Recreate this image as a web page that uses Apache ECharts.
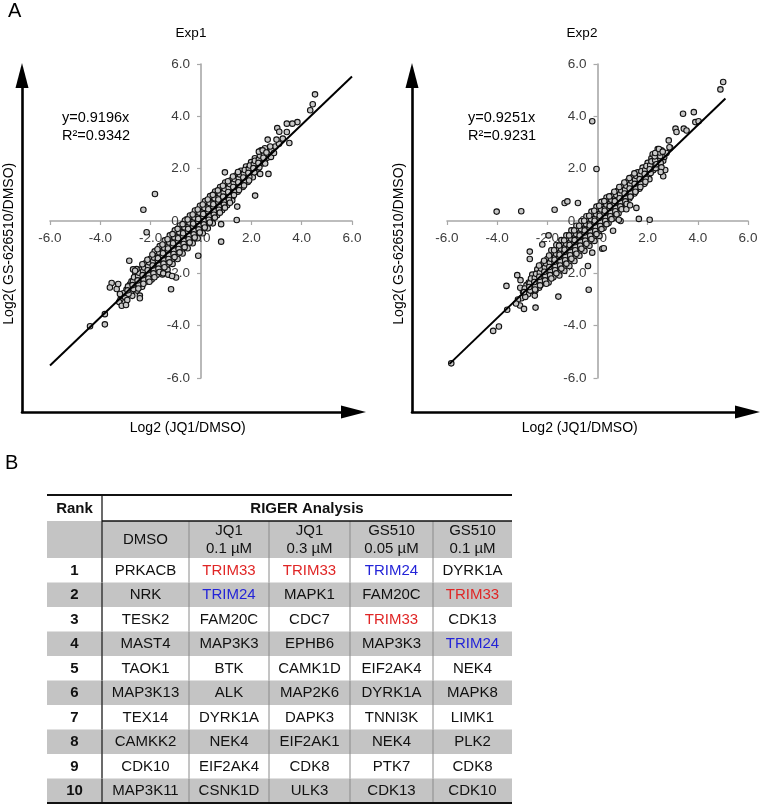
<!DOCTYPE html>
<html><head><meta charset="utf-8">
<script src="https://cdn.jsdelivr.net/npm/echarts@6/dist/echarts.min.js"></script>
<style>html,body{margin:0;padding:0;background:#fff}#c{width:762px;height:807px}</style>
</head><body><div id="c"></div>
<script>
const FONT = '"Liberation Sans", Arial, Helvetica, sans-serif';

// ---------- Panel A data ----------
const exp1Core = [
[-3.2,-3.0],[-3.15,-2.85],[-3.25,-3.1],
[-3.02,-2.9],[-2.96,-2.62],[-3.08,-2.76],[-2.93,-3.02],
[-2.82,-2.42],[-2.78,-2.71],[-2.86,-2.56],[-2.73,-2.86],[-2.76,-2.3],
[-2.63,-2.21],[-2.57,-2.5],[-2.66,-2.36],[-2.54,-2.66],[-2.61,-2.04],[-2.51,-2.29],
[-2.43,-2.01],[-2.37,-2.34],[-2.46,-2.16],[-2.34,-2.51],[-2.41,-1.86],[-2.31,-2.19],[-2.47,-2.44],
[-2.23,-1.81],[-2.17,-2.11],[-2.26,-1.96],[-2.14,-2.31],[-2.21,-1.62],[-2.11,-1.93],[-2.27,-2.21],[-2.09,-1.74],
[-2.03,-1.61],[-1.97,-1.91],[-2.06,-1.76],[-1.94,-2.09],[-2.01,-1.44],[-1.91,-1.71],[-2.07,-2.01],[-1.89,-1.56],[-1.96,-2.24],
[-1.83,-1.41],[-1.77,-1.74],[-1.86,-1.56],[-1.74,-1.91],[-1.81,-1.26],[-1.71,-1.61],[-1.87,-1.84],[-1.69,-1.36],[-1.76,-2.06],[-1.84,-1.16],
[-1.63,-1.21],[-1.57,-1.54],[-1.66,-1.36],[-1.54,-1.71],[-1.61,-1.06],[-1.51,-1.44],[-1.67,-1.66],[-1.49,-1.16],[-1.56,-1.89],[-1.64,-0.96],[-1.53,-2.04],
[-1.43,-1.01],[-1.37,-1.34],[-1.46,-1.17],[-1.34,-1.52],[-1.41,-0.86],[-1.31,-1.24],[-1.47,-1.46],[-1.29,-0.97],[-1.36,-1.69],[-1.44,-0.74],[-1.33,-1.86],
[-1.23,-0.83],[-1.17,-1.14],[-1.26,-0.98],[-1.14,-1.33],[-1.21,-0.66],[-1.11,-1.06],[-1.27,-1.27],[-1.09,-0.78],[-1.16,-1.49],[-1.24,-0.55],[-1.13,-1.64],
[-1.03,-0.64],[-0.97,-0.96],[-1.06,-0.79],[-0.94,-1.13],[-1.01,-0.47],[-0.91,-0.86],[-1.07,-1.08],[-0.89,-0.58],[-0.96,-1.29],[-1.04,-0.36],[-0.93,-1.45],
[-0.83,-0.45],[-0.77,-0.77],[-0.86,-0.61],[-0.74,-0.94],[-0.81,-0.28],[-0.71,-0.67],[-0.87,-0.89],[-0.69,-0.39],[-0.76,-1.1],[-0.84,-0.17],[-0.73,-1.24],
[-0.63,-0.27],[-0.57,-0.58],[-0.66,-0.42],[-0.54,-0.75],[-0.61,-0.1],[-0.51,-0.48],[-0.67,-0.7],[-0.49,-0.2],[-0.56,-0.91],[-0.64,0.02],[-0.53,-1.04],
[-0.43,-0.08],[-0.37,-0.4],[-0.46,-0.24],[-0.34,-0.56],[-0.41,0.09],[-0.31,-0.29],[-0.47,-0.51],[-0.29,-0.01],[-0.36,-0.72],[-0.44,0.21],[-0.33,-0.85],
[-0.23,0.1],[-0.17,-0.21],[-0.26,-0.05],[-0.14,-0.38],[-0.21,0.28],[-0.11,-0.1],[-0.27,-0.33],[-0.09,0.18],[-0.16,-0.53],[-0.24,0.4],[-0.13,-0.66],
[-0.03,0.29],[0.03,-0.03],[-0.06,0.13],[0.06,-0.19],[-0.01,0.46],[0.09,0.08],[-0.07,-0.14],[0.11,0.37],[0.04,-0.34],[-0.04,0.58],[0.07,-0.47],
[0.17,0.47],[0.23,0.16],[0.14,0.31],[0.26,0.0],[0.19,0.65],[0.29,0.27],[0.13,0.05],[0.31,0.55],[0.24,-0.15],[0.16,0.76],[0.27,-0.28],
[0.37,0.66],[0.43,0.35],[0.34,0.5],[0.46,0.19],[0.39,0.84],[0.49,0.45],[0.33,0.23],[0.51,0.74],[0.44,0.04],[0.36,0.95],[0.47,-0.09],
[0.57,0.85],[0.63,0.53],[0.54,0.69],[0.66,0.37],[0.59,1.02],[0.69,0.64],[0.53,0.42],[0.71,0.92],[0.64,0.22],[0.56,1.13],
[0.77,1.03],[0.83,0.72],[0.74,0.87],[0.86,0.56],[0.79,1.21],[0.89,0.82],[0.73,0.61],[0.91,1.1],[0.84,0.41],[0.76,1.3],
[0.97,1.21],[1.03,0.9],[0.94,1.06],[1.06,0.75],[0.99,1.38],[1.09,1.0],[0.93,0.8],[1.11,1.28],[1.04,0.6],[0.96,1.47],
[1.17,1.4],[1.23,1.09],[1.14,1.24],[1.26,0.93],[1.19,1.56],[1.29,1.19],[1.13,0.99],[1.31,1.46],[1.24,0.78],
[1.37,1.58],[1.43,1.27],[1.34,1.43],[1.46,1.12],[1.39,1.74],[1.49,1.37],[1.33,1.18],[1.51,1.63],[1.44,0.55],
[1.57,1.76],[1.63,1.46],[1.54,1.61],[1.66,1.3],[1.59,1.92],[1.69,1.55],[1.53,1.36],[1.71,1.81],
[1.77,1.94],[1.83,1.64],[1.74,1.79],[1.86,1.49],[1.79,2.08],[1.89,1.73],[1.73,1.55],
[1.97,2.12],[2.03,1.82],[1.94,1.97],[2.06,1.67],[1.99,2.25],[2.09,1.91],
[2.17,2.3],[2.23,2.0],[2.14,2.4],[2.26,1.86],[2.19,2.15],
[2.37,2.48],[2.43,2.2],[2.34,2.62],[2.46,2.35],[2.39,2.7],
[2.57,2.65],[2.63,2.42],[2.54,2.78],[2.66,2.55]
];
const exp1CoreB = [
[-2.9,-2.5],[-2.88,-2.78],[-2.92,-2.65],
[-2.7,-2.3],[-2.68,-2.6],[-2.72,-2.45],[-2.66,-2.15],
[-2.5,-2.1],[-2.48,-2.42],[-2.52,-2.27],[-2.46,-1.98],[-2.49,-2.58],
[-2.3,-1.92],[-2.28,-2.24],[-2.32,-2.07],[-2.26,-1.78],[-2.29,-2.4],[-2.33,-1.65],
[-2.1,-1.72],[-2.08,-2.05],[-2.12,-1.88],[-2.06,-1.58],[-2.09,-2.2],[-2.13,-1.48],[-2.05,-2.32],
[-1.9,-1.53],[-1.88,-1.86],[-1.92,-1.7],[-1.86,-1.4],[-1.89,-2.0],[-1.93,-1.28],[-1.85,-2.15],
[-1.7,-1.33],[-1.68,-1.68],[-1.72,-1.5],[-1.66,-1.2],[-1.69,-1.82],[-1.73,-1.08],[-1.65,-1.95],[-1.71,-1.42],
[-1.5,-1.15],[-1.48,-1.5],[-1.52,-1.31],[-1.46,-1.02],[-1.49,-1.63],[-1.53,-0.9],[-1.45,-1.77],[-1.51,-1.23],
[-1.3,-0.96],[-1.28,-1.3],[-1.32,-1.12],[-1.26,-0.82],[-1.29,-1.45],[-1.33,-0.7],[-1.25,-1.58],[-1.31,-1.05],
[-1.1,-0.77],[-1.08,-1.12],[-1.12,-0.94],[-1.06,-0.62],[-1.09,-1.26],[-1.13,-0.5],[-1.05,-1.38],[-1.11,-0.85],
[-0.9,-0.58],[-0.88,-0.93],[-0.92,-0.75],[-0.86,-0.43],[-0.89,-1.07],[-0.93,-0.3],[-0.85,-1.2],[-0.91,-0.66],
[-0.7,-0.4],[-0.68,-0.75],[-0.72,-0.56],[-0.66,-0.24],[-0.69,-0.88],[-0.73,-0.12],[-0.65,-1.0],[-0.71,-0.47],
[-0.5,-0.21],[-0.48,-0.56],[-0.52,-0.38],[-0.46,-0.06],[-0.49,-0.7],[-0.53,0.06],[-0.45,-0.82],[-0.51,-0.3],
[-0.3,-0.02],[-0.28,-0.38],[-0.32,-0.19],[-0.26,0.13],[-0.29,-0.51],[-0.33,0.25],[-0.25,-0.63],[-0.31,-0.1],
[-0.1,0.17],[-0.08,-0.19],[-0.12,0.0],[-0.06,0.32],[-0.09,-0.32],[-0.13,0.44],[-0.05,-0.44],[-0.11,0.08],
[0.1,0.36],[0.12,0.0],[0.08,0.19],[0.14,0.5],[0.11,-0.13],[0.07,0.63],[0.15,-0.25],[0.09,0.27],
[0.3,0.54],[0.32,0.19],[0.28,0.37],[0.34,0.69],[0.31,0.05],[0.27,0.82],[0.35,-0.06],[0.29,0.45],
[0.5,0.73],[0.52,0.38],[0.48,0.56],[0.54,0.87],[0.51,0.24],[0.47,1.0],[0.55,0.13],[0.49,0.64],
[0.7,0.91],[0.72,0.56],[0.68,0.74],[0.74,1.05],[0.71,0.43],[0.67,1.17],[0.75,0.32],[0.69,0.82],
[0.9,1.09],[0.92,0.75],[0.88,0.93],[0.94,1.23],[0.91,0.62],[0.87,1.35],[0.95,0.51],
[1.1,1.27],[1.12,0.94],[1.08,1.11],[1.14,1.41],[1.11,0.8],[1.07,1.52],[1.15,0.7],
[1.3,1.46],[1.32,1.12],[1.28,1.3],[1.34,1.6],[1.31,0.99],[1.27,1.7],
[1.5,1.64],[1.52,1.31],[1.48,1.48],[1.54,1.78],[1.51,1.18],[1.47,1.87],
[1.7,1.82],[1.72,1.49],[1.68,1.66],[1.74,1.95],[1.71,1.36],
[1.9,2.0],[1.92,1.68],[1.88,1.84],[1.94,2.12],[1.91,1.55],
[2.1,2.18],[2.12,1.86],[2.08,2.02],[2.14,2.3],
[2.3,2.36],[2.32,2.05],[2.28,2.22],[2.34,2.5],
[2.5,2.52],[2.52,2.28],[2.48,2.42],
[2.8,2.7],[2.78,2.45],[2.95,2.85],[3.1,2.95],[3.25,3.15]
];
const exp1Outliers = [
[4.53,4.84],[4.44,4.46],[4.34,4.23],[3.83,3.78],[3.63,3.72],[3.51,2.98],[3.41,3.72],[3.41,3.4],
[3.03,3.55],[3.11,3.41],[3.0,3.11],[2.65,3.11],[2.68,1.8],[2.35,1.8],[2.15,0.97],[1.42,0.04],
[0.8,-0.12],[0.8,-0.79],[-0.11,-1.33],[-1.83,1.03],[-2.29,0.43],[-1.19,-2.61],[-0.99,-2.16],
[-1.5,-2.0],[-1.3,-2.05],[-1.15,-2.1],[-2.85,-1.52],[-3.55,-2.37],[-3.62,-2.54],[-3.35,-2.6],
[-3.29,-2.41],[-3.22,-2.79],[-3.15,-3.24],[-2.98,-3.21],[-2.43,-2.85],[-2.43,-2.95],[-3.82,-3.56],
[-3.82,-3.95],[-4.41,-4.02],[-2.56,-1.84],[-2.7,-1.85],[-2.62,-1.9],[2.3,2.65],[2.45,2.7],
[2.6,2.62],[2.55,2.2],[2.75,2.85],[2.9,2.6],[0.95,1.86],[-2.16,-0.43]
];
const exp1Fit = [[-6,-5.52],[6,5.52]];

const exp2Core = [
[-3.03,-2.95],[-2.97,-2.7],[-3.08,-2.55],
[-2.83,-2.45],[-2.77,-2.8],[-2.86,-2.62],[-2.74,-2.35],
[-2.62,-2.25],[-2.58,-2.55],[-2.65,-2.4],[-2.53,-2.7],[-2.6,-2.05],[-2.5,-2.85],
[-2.42,-2.05],[-2.38,-2.38],[-2.45,-2.2],[-2.33,-2.55],[-2.4,-1.85],[-2.3,-2.15],[-2.47,-2.65],
[-2.22,-1.85],[-2.18,-2.15],[-2.25,-2.0],[-2.13,-2.35],[-2.2,-1.65],[-2.1,-1.95],[-2.27,-2.45],[-2.08,-1.75],
[-2.02,-1.65],[-1.98,-1.95],[-2.05,-1.8],[-1.93,-2.15],[-2.0,-1.45],[-1.9,-1.75],[-2.07,-2.25],[-1.88,-1.55],[-1.95,-2.35],
[-1.82,-1.45],[-1.78,-1.78],[-1.85,-1.6],[-1.73,-1.95],[-1.8,-1.25],[-1.7,-1.58],[-1.87,-2.05],[-1.68,-1.35],[-1.76,-2.15],[-1.84,-1.12],
[-1.62,-1.27],[-1.58,-1.58],[-1.65,-1.42],[-1.53,-1.76],[-1.6,-1.07],[-1.5,-1.4],[-1.67,-1.86],[-1.48,-1.18],[-1.56,-1.97],[-1.64,-0.92],[-1.52,-2.08],
[-1.42,-1.08],[-1.38,-1.4],[-1.45,-1.23],[-1.33,-1.57],[-1.4,-0.88],[-1.3,-1.21],[-1.47,-1.67],[-1.28,-0.99],[-1.36,-1.78],[-1.44,-0.73],[-1.32,-1.9],
[-1.22,-0.9],[-1.18,-1.21],[-1.25,-1.05],[-1.13,-1.38],[-1.2,-0.7],[-1.1,-1.03],[-1.27,-1.48],[-1.08,-0.8],[-1.16,-1.6],[-1.24,-0.55],[-1.12,-1.72],
[-1.02,-0.71],[-0.98,-1.03],[-1.05,-0.86],[-0.93,-1.2],[-1.0,-0.51],[-0.9,-0.84],[-1.07,-1.3],[-0.88,-0.61],[-0.96,-1.41],[-1.04,-0.36],[-0.92,-1.53],
[-0.82,-0.53],[-0.78,-0.84],[-0.85,-0.68],[-0.73,-1.0],[-0.8,-0.32],[-0.7,-0.66],[-0.87,-1.1],[-0.68,-0.43],[-0.76,-1.22],[-0.84,-0.18],[-0.72,-1.33],
[-0.62,-0.34],[-0.58,-0.66],[-0.65,-0.49],[-0.53,-0.81],[-0.6,-0.14],[-0.5,-0.47],[-0.67,-0.91],[-0.48,-0.24],[-0.56,-1.03],[-0.64,0.0],[-0.52,-1.14],
[-0.42,-0.16],[-0.38,-0.47],[-0.45,-0.31],[-0.33,-0.63],[-0.4,0.05],[-0.3,-0.28],[-0.47,-0.72],[-0.28,-0.06],[-0.36,-0.84],[-0.44,0.18],[-0.32,-0.95],
[-0.22,0.03],[-0.18,-0.29],[-0.25,-0.12],[-0.13,-0.44],[-0.2,0.24],[-0.1,-0.09],[-0.27,-0.53],[-0.08,0.13],[-0.16,-0.65],[-0.24,0.36],[-0.12,-0.76],
[-0.02,0.22],[0.02,-0.1],[-0.05,0.07],[0.07,-0.25],[0.0,0.42],[0.1,0.1],[-0.07,-0.34],[0.12,0.32],[0.04,-0.46],[-0.04,0.55],[0.08,-0.57],
[0.18,0.4],[0.22,0.09],[0.15,0.25],[0.27,-0.06],[0.2,0.61],[0.3,0.28],[0.13,-0.15],[0.32,0.51],[0.24,-0.27],[0.16,0.73],
[0.38,0.59],[0.42,0.27],[0.35,0.44],[0.47,0.12],[0.4,0.79],[0.5,0.47],[0.33,0.04],[0.52,0.69],[0.44,-0.08],[0.36,0.9],
[0.58,0.77],[0.62,0.46],[0.55,0.62],[0.67,0.31],[0.6,0.97],[0.7,0.65],[0.53,0.22],[0.72,0.87],[0.64,0.11],
[0.78,0.96],[0.82,0.64],[0.75,0.81],[0.87,0.49],[0.8,1.15],[0.9,0.84],[0.73,0.4],[0.92,1.05],[0.84,0.3],
[0.98,1.14],[1.02,0.83],[0.95,0.99],[1.07,0.68],[1.0,1.33],[1.1,1.02],[0.93,0.58],[1.12,1.23],
[1.18,1.33],[1.22,1.01],[1.15,1.18],[1.27,0.86],[1.2,1.52],[1.3,1.2],[1.13,0.77],[1.32,1.41],
[1.38,1.51],[1.42,1.2],[1.35,1.36],[1.47,1.05],[1.4,1.68],[1.5,1.39],[1.33,0.96],
[1.58,1.7],[1.62,1.38],[1.55,1.55],[1.67,1.23],[1.6,1.86],[1.7,1.57],[1.53,1.15],
[1.78,1.88],[1.82,1.57],[1.75,1.73],[1.87,1.42],[1.8,2.04],[1.9,1.76],
[1.98,2.06],[2.02,1.75],[1.95,1.92],[2.07,1.6],[2.0,2.22],[2.1,1.95],
[2.18,2.25],[2.22,1.94],[2.15,2.4],[2.27,2.1],[2.2,2.55],
[2.38,2.43],[2.42,2.15],[2.35,2.6],[2.47,2.3],[2.4,2.75],
[2.58,2.55],[2.62,2.3],[2.55,2.7],[2.66,2.45]
];
const exp2CoreB = [
[-2.9,-2.58],[-2.88,-2.9],[-2.93,-2.72],
[-2.7,-2.38],[-2.68,-2.66],[-2.72,-2.52],[-2.65,-2.2],
[-2.5,-2.18],[-2.48,-2.48],[-2.52,-2.33],[-2.45,-2.02],[-2.49,-2.62],
[-2.3,-1.98],[-2.28,-2.3],[-2.32,-2.13],[-2.25,-1.82],[-2.29,-2.46],[-2.33,-1.7],
[-2.1,-1.78],[-2.08,-2.1],[-2.12,-1.94],[-2.05,-1.62],[-2.09,-2.27],[-2.13,-1.52],[-2.04,-2.4],
[-1.9,-1.6],[-1.88,-1.9],[-1.92,-1.76],[-1.85,-1.44],[-1.89,-2.07],[-1.93,-1.32],[-1.84,-2.2],
[-1.7,-1.4],[-1.68,-1.72],[-1.72,-1.56],[-1.65,-1.25],[-1.69,-1.88],[-1.73,-1.12],[-1.64,-2.0],[-1.71,-1.48],
[-1.5,-1.22],[-1.48,-1.53],[-1.52,-1.37],[-1.45,-1.06],[-1.49,-1.7],[-1.53,-0.94],[-1.44,-1.82],[-1.51,-1.29],
[-1.3,-1.03],[-1.28,-1.34],[-1.32,-1.18],[-1.25,-0.87],[-1.29,-1.5],[-1.33,-0.74],[-1.24,-1.63],[-1.31,-1.1],
[-1.1,-0.84],[-1.08,-1.15],[-1.12,-1.0],[-1.05,-0.68],[-1.09,-1.31],[-1.13,-0.55],[-1.04,-1.44],[-1.11,-0.92],
[-0.9,-0.66],[-0.88,-0.97],[-0.92,-0.81],[-0.85,-0.5],[-0.89,-1.12],[-0.93,-0.36],[-0.84,-1.25],[-0.91,-0.73],
[-0.7,-0.47],[-0.68,-0.78],[-0.72,-0.62],[-0.65,-0.31],[-0.69,-0.94],[-0.73,-0.18],[-0.64,-1.06],[-0.71,-0.55],
[-0.5,-0.28],[-0.48,-0.6],[-0.52,-0.44],[-0.45,-0.12],[-0.49,-0.75],[-0.53,0.01],[-0.44,-0.87],[-0.51,-0.36],
[-0.3,-0.09],[-0.28,-0.41],[-0.32,-0.25],[-0.25,0.07],[-0.29,-0.56],[-0.33,0.2],[-0.24,-0.69],[-0.31,-0.17],
[-0.1,0.09],[-0.08,-0.22],[-0.12,-0.06],[-0.05,0.26],[-0.09,-0.38],[-0.13,0.39],[-0.04,-0.5],[-0.11,0.01],
[0.1,0.28],[0.12,-0.04],[0.08,0.12],[0.15,0.44],[0.11,-0.19],[0.07,0.58],[0.16,-0.31],[0.09,0.2],
[0.3,0.47],[0.32,0.15],[0.28,0.31],[0.35,0.63],[0.31,0.0],[0.27,0.76],[0.36,-0.12],[0.29,0.39],
[0.5,0.65],[0.52,0.34],[0.48,0.5],[0.55,0.81],[0.51,0.18],[0.47,0.94],[0.56,0.07],[0.49,0.57],
[0.7,0.84],[0.72,0.52],[0.68,0.68],[0.75,0.99],[0.71,0.37],[0.67,1.12],[0.76,0.26],[0.69,0.76],
[0.9,1.02],[0.92,0.71],[0.88,0.87],[0.95,1.17],[0.91,0.56],[0.87,1.3],[0.96,0.45],
[1.1,1.2],[1.12,0.9],[1.08,1.05],[1.15,1.35],[1.11,0.75],[1.07,1.47],[1.16,0.65],
[1.3,1.4],[1.32,1.08],[1.28,1.24],[1.35,1.54],[1.31,0.93],[1.27,1.64],
[1.5,1.58],[1.52,1.27],[1.48,1.42],[1.55,1.72],[1.51,1.12],[1.47,1.82],
[1.7,1.76],[1.72,1.45],[1.68,1.6],[1.75,1.9],[1.71,1.3],
[1.9,1.95],[1.92,1.64],[1.88,1.8],[1.95,2.1],[1.91,1.5],
[2.1,2.13],[2.12,1.83],[2.08,1.98],[2.15,2.28],
[2.3,2.32],[2.32,2.02],[2.28,2.47],[2.35,2.17],
[2.5,2.48],[2.52,2.22],[2.48,2.62],
[2.75,2.6],[2.9,2.8],[2.7,1.95],[2.55,2.05]
];
const exp2Outliers = [
[5.01,5.31],[4.9,5.03],[3.84,4.16],[3.41,4.1],[3.9,3.78],[4.03,3.81],[3.44,3.53],[3.55,3.46],
[3.11,3.53],[3.15,3.4],[2.84,3.08],[2.87,2.82],[2.62,1.71],[2.52,1.87],[-0.21,3.81],[-0.04,1.99],
[-4.02,0.36],[-3.04,0.37],[-1.71,0.43],[-1.31,0.69],[-1.2,0.75],[-0.78,0.69],[1.65,0.08],[2.08,0.05],
[0.62,-0.37],[0.19,-1.06],[0.25,-1.04],[-0.21,-1.21],[-0.38,-1.72],[-0.35,-2.63],[-1.56,-2.89],
[-2.7,-1.17],[-2.7,-1.45],[-3.2,-2.07],[-3.07,-2.26],[-3.63,-2.48],[-3.17,-3.0],[-3.09,-3.23],
[-2.93,-3.36],[-3.25,-3.15],[-3.6,-3.39],[-4.16,-4.2],[-3.93,-4.03],[-5.83,-5.44],[-2.47,-3.31],
[1.15,0.45],[1.3,0.6],[-2.2,-0.9],[-1.95,-0.55],[2.3,2.6],[2.45,2.75],[2.6,2.65],[0.92,0.0],
[0.85,0.05],[1.55,0.5]
];
const exp2Fit = [[-5.9,-5.46],[5.1,4.68]];

const axisTickValues = [-6, -4, -2, 0, 2, 4, 6];
const xAxisTitle = 'Log2 (JQ1/DMSO)';
const yAxisTitle = 'Log2( GS-626510/DMSO)';
const panelTitles = ['Exp1', 'Exp2'];
const fitLabels = [['y=0.9196x', 'R²=0.9342'], ['y=0.9251x', 'R²=0.9231']];

// ---------- Panel B data ----------
const ranks = [1,2,3,4,5,6,7,8,9,10];
const conditions = ['DMSO', 'JQ1\n0.1 µM', 'JQ1\n0.3 µM', 'GS510\n0.05 µM', 'GS510\n0.1 µM'];
const geneDMSO   = ['PRKACB','NRK','TESK2','MAST4','TAOK1','MAP3K13','TEX14','CAMKK2','CDK10','MAP3K11'];
const geneJQ1_01 = ['TRIM33','TRIM24','FAM20C','MAP3K3','BTK','ALK','DYRK1A','NEK4','EIF2AK4','CSNK1D'];
const geneJQ1_03 = ['TRIM33','MAPK1','CDC7','EPHB6','CAMK1D','MAP2K6','DAPK3','EIF2AK1','CDK8','ULK3'];
const geneGS_005 = ['TRIM24','FAM20C','TRIM33','MAP3K3','EIF2AK4','DYRK1A','TNNI3K','NEK4','PTK7','CDK13'];
const geneGS_01  = ['DYRK1A','TRIM33','CDK13','TRIM24','NEK4','MAPK8','LIMK1','PLK2','CDK8','CDK10'];
const geneColumns = [geneDMSO, geneJQ1_01, geneJQ1_03, geneGS_005, geneGS_01];
const highlight = {TRIM33: '#e02626', TRIM24: '#2424d8'};

// ---------- layout / style ----------
const GRAY = '#c4c4c4';
const colEdges = [0, 55, 142, 222, 303, 386, 465];
const rowEdges = [0, 26, 63];
for (let i = 1; i <= ranks.length; i++) rowEdges.push(63 + 24.5 * i);

const cells = [];
cells.push({value: [0, 1, 0], text: 'Rank', bold: true, bg: '#fff'});
cells.push({value: [1, 6, 0], text: 'RIGER Analysis', bold: true, bg: '#fff'});
cells.push({value: [0, 1, 1], text: '', bg: GRAY});
conditions.forEach((t, j) => cells.push({value: [j + 1, j + 2, 1], text: t, bg: GRAY}));
ranks.forEach((rk, i) => {
  const bg = i % 2 ? GRAY : '#fff';
  cells.push({value: [0, 1, i + 2], text: String(rk), bold: true, bg});
  geneColumns.forEach((col, j) => cells.push({value: [j + 1, j + 2, i + 2], text: col[i], bg, color: highlight[col[i]] || '#111'}));
});
const rules = [[0, 6, 0, 2], [1, 6, 1, 1.6], [0, 6, rowEdges.length - 1, 2]];

function cellRender(params, api) {
  const d = cells[params.dataIndex];
  const c0 = api.value(0), c1 = api.value(1), r = api.value(2);
  const p0 = api.coord([colEdges[c0], rowEdges[r]]);
  const p1 = api.coord([colEdges[c1], rowEdges[r + 1]]);
  const x = p0[0], y = Math.min(p0[1], p1[1]), w = p1[0] - p0[0], h = Math.abs(p1[1] - p0[1]);
  const ch = [{type: 'rect', shape: {x, y, width: w, height: h}, style: {fill: d.bg}}];
  if (c0 === 1) ch.push({type: 'line', shape: {x1: x, y1: y, x2: x, y2: y + h}, style: {stroke: '#3a3a3a', lineWidth: 1.5}});
  else if (c0 > 1 && r >= 1) ch.push({type: 'line', shape: {x1: x, y1: y, x2: x, y2: y + h}, style: {stroke: '#8a8a8a', lineWidth: 1}});
  if (d.text) ch.push({type: 'text', style: {text: d.text, x: x + w / 2, y: y + h / 2 + 0.5, align: 'center', verticalAlign: 'middle',
    fill: d.color || '#111', fontSize: 15, fontFamily: FONT, fontWeight: d.bold ? 'bold' : 'normal', lineHeight: 18}});
  return {type: 'group', children: ch};
}
function ruleRender(params, api) {
  const v = rules[params.dataIndex];
  const a = api.coord([colEdges[v[0]], rowEdges[v[2]]]);
  const b = api.coord([colEdges[v[1]], rowEdges[v[2]]]);
  return {type: 'line', shape: {x1: a[0], y1: a[1], x2: b[0], y2: b[1]}, style: {stroke: '#111', lineWidth: v[3]}};
}

function arrowAxis(gridIndex, name, gap) {
  return {type: 'value', gridIndex, min: 0, max: 1, name, nameLocation: 'middle', nameGap: gap,
    nameTextStyle: {fontSize: 14, color: '#000', fontFamily: FONT},
    axisLine: {show: true, onZero: false, symbol: ['none', 'triangle'], symbolSize: [13, 25], lineStyle: {color: '#000', width: 2.6}},
    axisTick: {show: false}, axisLabel: {show: false}, splitLine: {show: false}};
}
// cross-shaped axes: the axis is shifted to the middle of its symmetric (-6..6) range
function scAxis(gridIndex, half, margin) {
  return {type: 'value', gridIndex, min: axisTickValues[0], max: axisTickValues[axisTickValues.length - 1], interval: 2,
    offset: -half,
    axisLine: {show: true, onZero: false, lineStyle: {color: '#a8a8a8', width: 1.6}},
    axisTick: {show: true, length: 4, lineStyle: {color: '#a8a8a8', width: 1.2}},
    axisLabel: {formatter: v => v.toFixed(1), color: '#3c3c3c', fontSize: 13.5, fontFamily: FONT, margin},
    splitLine: {show: false}};
}
function hiddenAxis(gridIndex, max, inverse) {
  return {type: 'value', gridIndex, min: 0, max, inverse: !!inverse, show: false};
}

const pointStyle = {color: '#c8c8c8', borderColor: '#111', borderWidth: 1.1, opacity: 1};

const chart = echarts.init(document.getElementById('c'), null, {renderer: 'canvas'});
chart.setOption({
  animation: false,
  backgroundColor: '#fff',
  grid: [
    {left: 22, top: 75.5, width: 331.5, height: 336.5, outerBoundsMode: 'none'},
    {left: 412, top: 75.5, width: 335.5, height: 336.5, outerBoundsMode: 'none'},
    {left: 50, top: 64, width: 302, height: 314, outerBoundsMode: 'none'},
    {left: 447, top: 64, width: 301, height: 314, outerBoundsMode: 'none'},
    {left: 47, top: 495, width: 465, height: 308, outerBoundsMode: 'none'}
  ],
  xAxis: [arrowAxis(0, xAxisTitle, 9), arrowAxis(1, xAxisTitle, 9), scAxis(2, 157, 10), scAxis(3, 157, 10), hiddenAxis(4, 465)],
  yAxis: [arrowAxis(0, yAxisTitle, 6), arrowAxis(1, yAxisTitle, 6), scAxis(2, 151, 11), scAxis(3, 150.5, 11), hiddenAxis(4, 308, true)],
  series: [
    {type: 'scatter', xAxisIndex: 2, yAxisIndex: 2, data: exp1Core.concat(exp1CoreB, exp1Outliers), symbol: 'circle', symbolSize: 5.5, itemStyle: pointStyle, silent: true, z: 3},
    {type: 'line', xAxisIndex: 2, yAxisIndex: 2, data: exp1Fit, symbol: 'none', lineStyle: {color: '#000', width: 2}, silent: true, z: 4},
    {type: 'scatter', xAxisIndex: 3, yAxisIndex: 3, data: exp2Core.concat(exp2CoreB, exp2Outliers), symbol: 'circle', symbolSize: 5.5, itemStyle: pointStyle, silent: true, z: 3},
    {type: 'line', xAxisIndex: 3, yAxisIndex: 3, data: exp2Fit, symbol: 'none', lineStyle: {color: '#000', width: 2}, silent: true, z: 4},
    {type: 'custom', xAxisIndex: 4, yAxisIndex: 4, data: cells, renderItem: cellRender, clip: false, silent: true, z: 2},
    {type: 'custom', xAxisIndex: 4, yAxisIndex: 4, data: rules, renderItem: ruleRender, clip: false, silent: true, z: 5}
  ],
  graphic: [
    {type: 'text', left: 8, top: 1, style: {text: 'A', fontSize: 20, fill: '#000', fontFamily: FONT}},
    {type: 'text', left: 5, top: 453, style: {text: 'B', fontSize: 20, fill: '#000', fontFamily: FONT}},
    {type: 'text', x: 191, y: 33, style: {text: panelTitles[0], align: 'center', verticalAlign: 'middle', fontSize: 13.5, fill: '#000', fontFamily: FONT}},
    {type: 'text', x: 582, y: 33, style: {text: panelTitles[1], align: 'center', verticalAlign: 'middle', fontSize: 13.5, fill: '#000', fontFamily: FONT}},
    {type: 'text', x: 62, y: 118, style: {text: fitLabels[0][0], verticalAlign: 'middle', fontSize: 14.5, fill: '#000', fontFamily: FONT}},
    {type: 'text', x: 62, y: 136, style: {text: fitLabels[0][1], verticalAlign: 'middle', fontSize: 14.5, fill: '#000', fontFamily: FONT}},
    {type: 'text', x: 468, y: 118, style: {text: fitLabels[1][0], verticalAlign: 'middle', fontSize: 14.5, fill: '#000', fontFamily: FONT}},
    {type: 'text', x: 468, y: 136, style: {text: fitLabels[1][1], verticalAlign: 'middle', fontSize: 14.5, fill: '#000', fontFamily: FONT}}
  ]
});
</script>
</body></html>
